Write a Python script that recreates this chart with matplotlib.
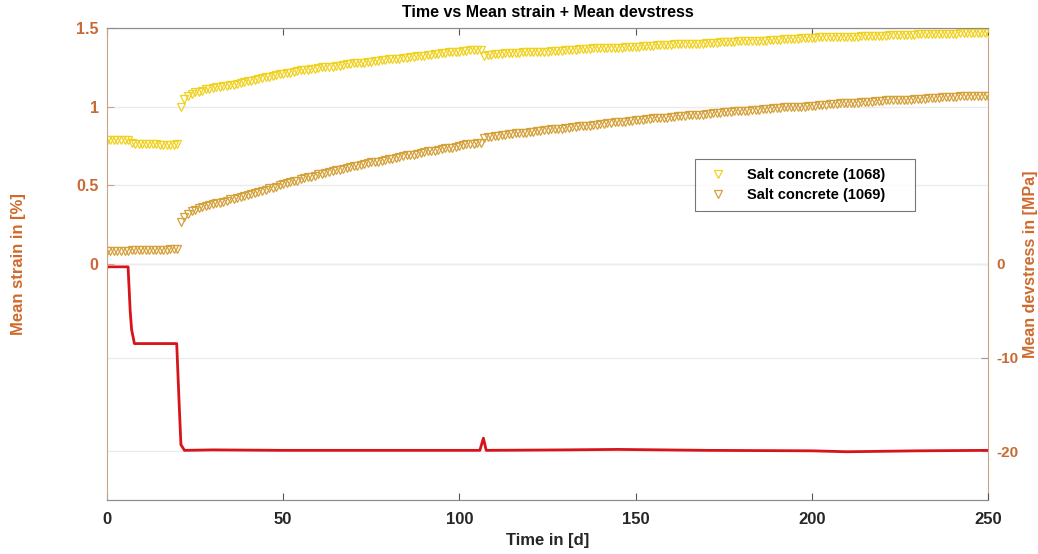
import matplotlib
matplotlib.use("Agg")
import matplotlib.pyplot as plt
import numpy as np

plt.rcParams['font.family'] = ['Liberation Sans', 'DejaVu Sans']
plt.rcParams['font.weight'] = 'bold'

# ---------------- data ----------------
days = list(range(0, 251))

strain_1068 = (
    [0.79, 0.79, 0.79, 0.79, 0.79, 0.79, 0.79] +
    [0.77] +
    [0.765, 0.765, 0.76, 0.76, 0.76, 0.76, 0.76, 0.755, 0.755, 0.755, 0.755, 0.755, 0.76] +
    [1.00, 1.05, 1.07, 1.08, 1.09, 1.095, 1.10, 1.11, 1.115, 1.12] +
    [1.125, 1.125, 1.13, 1.13, 1.135, 1.14, 1.145, 1.15, 1.155, 1.16] +
    [1.165, 1.17, 1.175, 1.18, 1.19, 1.19, 1.195, 1.20, 1.205, 1.21] +
    [1.215, 1.215, 1.22, 1.225, 1.23, 1.23, 1.235, 1.24, 1.24, 1.245] +
    [1.25, 1.25, 1.255, 1.255, 1.26, 1.26, 1.265, 1.27, 1.27, 1.275] +
    [1.275, 1.28, 1.28, 1.285, 1.285, 1.29, 1.29, 1.295, 1.295, 1.30] +
    [1.30, 1.305, 1.305, 1.31, 1.31, 1.315, 1.315, 1.32, 1.32, 1.325] +
    [1.33, 1.33, 1.335, 1.335, 1.34, 1.34, 1.345, 1.345, 1.35, 1.35] +
    [1.355, 1.355, 1.36, 1.36, 1.36, 1.36] +
    [1.32] +
    [1.33, 1.33, 1.335] +
    [1.335, 1.335, 1.34, 1.34, 1.34, 1.34, 1.34, 1.345, 1.345, 1.345] +
    [1.345, 1.35, 1.35, 1.35, 1.35, 1.355, 1.355, 1.355, 1.355, 1.36] +
    [1.36, 1.36, 1.36, 1.365, 1.365, 1.365, 1.365, 1.37, 1.37, 1.37] +
    [1.37, 1.37, 1.375, 1.375, 1.375, 1.375, 1.38, 1.38, 1.38, 1.38] +
    [1.38, 1.385, 1.385, 1.385, 1.385, 1.39, 1.39, 1.39, 1.39, 1.39] +
    [1.395, 1.395, 1.395, 1.395, 1.40, 1.40, 1.40, 1.40, 1.40, 1.405] +
    [1.405, 1.405, 1.405, 1.41, 1.41, 1.41, 1.41, 1.41, 1.415, 1.415] +
    [1.415, 1.415, 1.42, 1.42, 1.42, 1.42, 1.42, 1.425, 1.425, 1.425] +
    [1.425, 1.43, 1.43, 1.43, 1.43, 1.43, 1.435, 1.435, 1.435, 1.435] +
    [1.435, 1.44, 1.44, 1.44, 1.44, 1.44, 1.44, 1.445, 1.445, 1.445] +
    [1.445, 1.445, 1.445, 1.45, 1.45, 1.45, 1.45, 1.45, 1.45, 1.45] +
    [1.45, 1.455, 1.455, 1.455, 1.455, 1.455, 1.455, 1.455, 1.455, 1.46] +
    [1.46, 1.46, 1.46, 1.46, 1.46, 1.46, 1.46, 1.46, 1.46, 1.46] +
    [1.46, 1.465, 1.465, 1.465, 1.465, 1.465, 1.465, 1.465, 1.465, 1.465]
)

strain_1069 = (
    [0.085, 0.085, 0.085, 0.085, 0.085, 0.085, 0.085,
     0.09, 0.09, 0.09, 0.09, 0.09, 0.09, 0.09, 0.09, 0.09, 0.09, 0.09,
     0.095, 0.095, 0.095] +
    [0.27, 0.30, 0.32, 0.335, 0.345, 0.355, 0.36, 0.37, 0.375, 0.38] +
    [0.385, 0.39, 0.395, 0.40, 0.41, 0.415, 0.42, 0.425, 0.43, 0.44] +
    [0.445, 0.45, 0.46, 0.465, 0.47, 0.48, 0.485, 0.49, 0.50, 0.51] +
    [0.515, 0.52, 0.525, 0.53, 0.54, 0.545, 0.55, 0.555, 0.56, 0.57] +
    [0.575, 0.58, 0.585, 0.59, 0.595, 0.60, 0.605, 0.61, 0.615, 0.62] +
    [0.625, 0.63, 0.635, 0.64, 0.645, 0.645, 0.65, 0.655, 0.66, 0.665] +
    [0.67, 0.675, 0.68, 0.685, 0.69, 0.69, 0.695, 0.70, 0.705, 0.71] +
    [0.715, 0.72, 0.72, 0.725, 0.73, 0.735, 0.74, 0.74, 0.745, 0.75] +
    [0.755, 0.76, 0.76, 0.765, 0.77, 0.77] +
    [0.80] +
    [0.81, 0.81, 0.815] +
    [0.815, 0.82, 0.82, 0.825, 0.825, 0.83, 0.83, 0.835, 0.835, 0.84] +
    [0.84, 0.845, 0.845, 0.85, 0.85, 0.855, 0.855, 0.86, 0.86, 0.865] +
    [0.865, 0.87, 0.87, 0.875, 0.875, 0.88, 0.88, 0.885, 0.885, 0.89] +
    [0.89, 0.895, 0.895, 0.90, 0.90, 0.905, 0.905, 0.91, 0.91, 0.915] +
    [0.915, 0.915, 0.92, 0.92, 0.925, 0.925, 0.93, 0.93, 0.93, 0.935] +
    [0.935, 0.94, 0.94, 0.94, 0.945, 0.945, 0.95, 0.95, 0.95, 0.955] +
    [0.955, 0.96, 0.96, 0.96, 0.965, 0.965, 0.965, 0.97, 0.97, 0.97] +
    [0.975, 0.975, 0.98, 0.98, 0.98, 0.985, 0.985, 0.985, 0.99, 0.99] +
    [0.99, 0.995, 0.995, 0.995, 1.00, 1.00, 1.00, 1.00, 1.005, 1.005] +
    [1.005, 1.01, 1.01, 1.01, 1.015, 1.015, 1.015, 1.02, 1.02, 1.02] +
    [1.025, 1.025, 1.025, 1.03, 1.03, 1.03, 1.03, 1.035, 1.035, 1.035] +
    [1.04, 1.04, 1.04, 1.04, 1.045, 1.045, 1.045, 1.045, 1.05, 1.05] +
    [1.05, 1.05, 1.055, 1.055, 1.055, 1.055, 1.06, 1.06, 1.06, 1.06] +
    [1.06, 1.065, 1.065, 1.065, 1.065, 1.065, 1.07, 1.07, 1.07, 1.07]
)

stress_days = [0, 0.5, 6.0, 6.6, 7.0, 7.8, 19.8, 20.5, 21.0, 22.0, 30, 50, 80,
               100, 105.8, 106.8, 107.6, 130, 145, 170, 200, 210, 230, 250]
stress_vals = [-0.4, -0.3, -0.3, -5.0, -7.0, -8.5, -8.5, -15.0, -19.3, -19.9,
               -19.85, -19.9, -19.9, -19.9, -19.9, -18.6, -19.9, -19.85, -19.8,
               -19.9, -19.95, -20.05, -19.95, -19.9]

series_labels = ['Salt concrete (1068)', 'Salt concrete (1069)']
x_ticks = [0, 50, 100, 150, 200, 250]
left_ticks = [0, 0.5, 1, 1.5]
right_ticks = [-20, -10, 0]

# ---------------- styling ----------------
label_col = '#CF6A2D'
tick_col = '#C96A35'
spine_col = '#C9A585'
grid_col = '#EBEBEB'

fig = plt.figure(figsize=(10.38, 5.54), dpi=100)
ax = fig.add_axes([0.103, 0.0975, 0.849, 0.852])
ax2 = ax.twinx()

ax.set_zorder(2)
ax.patch.set_visible(False)
ax2.set_zorder(1)

ax.plot(days, strain_1068, linestyle='none', marker='v', markersize=6,
        markerfacecolor='none', markeredgecolor='#F0D21E', markeredgewidth=0.9,
        label=series_labels[0])
ax.plot(days, strain_1069, linestyle='none', marker='v', markersize=6,
        markerfacecolor='none', markeredgecolor='#D4A13A', markeredgewidth=0.9,
        label=series_labels[1])

ax2.plot(stress_days, stress_vals, color='#D7141A', linewidth=2)

ax.set_xlim(0, 250)
ax.set_ylim(-1.5, 1.5)
ax2.set_ylim(-25.2, 25.2)

ax.set_xticks(x_ticks)
ax.set_xticklabels([str(t) for t in x_ticks], fontsize=12, color='#262626',
                   fontweight='bold')
ax.set_yticks(left_ticks)
ax.set_yticklabels(['0', '0.5', '1', '1.5'], fontsize=11.5, color=tick_col,
                   fontweight='bold')
ax2.set_yticks(right_ticks)
ax2.set_yticklabels(['-20', '-10', '0'], fontsize=11, color=tick_col,
                    fontweight='bold')

ax.tick_params(axis='x', direction='in', length=5, color='#555555',
               top=True, pad=9)
ax.tick_params(axis='y', direction='in', length=5, color=spine_col, pad=6)
ax2.tick_params(axis='y', direction='in', length=5, color='#999999', pad=6)

# grids
ax.yaxis.grid(True, color=grid_col, linewidth=1.0)
ax2.yaxis.grid(True, color=grid_col, linewidth=1.0)
ax.xaxis.grid(False)

for s in ['top', 'bottom']:
    ax.spines[s].set_color('#8C8C8C')
    ax2.spines[s].set_color('#8C8C8C')
ax.spines['left'].set_color(spine_col)
ax.spines['right'].set_visible(False)
ax2.spines['right'].set_color(spine_col)
ax2.spines['left'].set_visible(False)

ax.set_title('Time vs Mean strain + Mean devstress', fontsize=11.5,
             fontweight='bold', pad=8)
ax.set_xlabel('Time in [d]', fontsize=12, fontweight='bold', color='#262626',
              labelpad=4)
ax.set_ylabel('Mean strain in [%]', fontsize=12, fontweight='bold',
              color=label_col, labelpad=36)
ax2.set_ylabel('Mean devstress in [MPa]', fontsize=11.5, fontweight='bold',
               color=label_col, labelpad=3)

leg = ax.legend(loc='upper left', bbox_to_anchor=(0.667, 0.6145, 0.2497, 0.108),
                mode='expand', fontsize=10.5, frameon=True, fancybox=False,
                edgecolor='#555555', borderpad=0.6, handletextpad=1.0,
                labelspacing=0.45, borderaxespad=0)
leg.get_frame().set_linewidth(0.8)
for t in leg.get_texts():
    t.set_fontweight('bold')

fig.savefig('out.png', dpi=100)
